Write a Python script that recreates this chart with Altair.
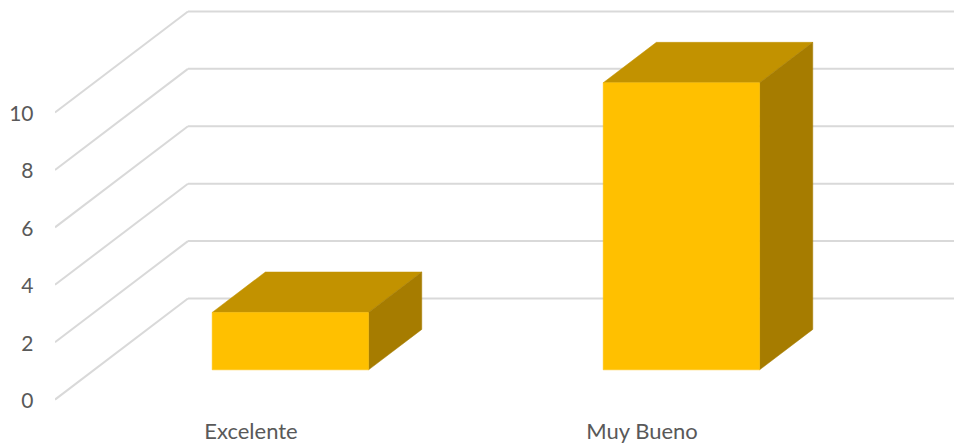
import altair as alt
import pandas as pd

categories = ["Excelente", "Muy Bueno"]
values = [2, 10]
ticks = [0, 2, 4, 6, 8, 10]

# Oblique projection in data units: one category slot on x, one unit of value on y
DX = 0.34     # horizontal shift of the back wall, in slots
DY = 3.52     # vertical shift of the back wall, in value units
BAR = 0.40    # bar width, in slots
D0, D1 = 0.30, 0.70   # bar depth range (fraction of floor depth)
XMAX = 2.2992
YMIN, YMAX = -0.363, 13.64

xs = alt.Scale(domain=[0, XMAX], nice=False, zero=False)
ys = alt.Scale(domain=[YMIN, YMAX], nice=False, zero=False)

grid = pd.DataFrame(
    [{"x": 0, "x2": DX, "y": t, "y2": t + DY} for t in ticks]
    + [{"x": DX, "x2": XMAX, "y": t + DY, "y2": t + DY} for t in ticks]
)

front, top, side = [], [], []
for i, (c, v) in enumerate(zip(categories, values)):
    left = i + 0.5 - BAR / 2 + DX * D0
    right = i + 0.5 + BAR / 2 + DX * D0
    base = DY * D0 - 0.02
    front.append({"c": c, "x": left, "x2": right, "y": base, "y2": base + v})
    run = DX * (D1 - D0)
    rise = DY * (D1 - D0)
    top += [
        {"c": c, "y": base + v, "x": left, "x2": right},
        {"c": c, "y": base + v + rise, "x": left + run, "x2": right + run},
    ]
    side += [
        {"c": c, "x": right, "y": base, "y2": base + v},
        {"c": c, "x": right + run, "y": base + rise, "y2": base + v + rise},
    ]

FONT = "Lato"
TXT = "#595959"

label_expr = "datum.value < 1 ? '%s' : '%s'" % (categories[0], categories[1])

grid_layer = alt.Chart(grid).mark_rule(color="#D9D9D9", strokeWidth=2, clip=True).encode(
    x=alt.X(
        "x:Q", scale=xs, title=None,
        axis=alt.Axis(
            values=[0.5, 1.5], labelExpr=label_expr, domain=False, ticks=False, grid=False,
            labelFont=FONT, labelFontSize=22, labelColor=TXT, labelPadding=11,
            labelBaseline="top", labelAlign="center", labelFontWeight="normal",
        ),
    ),
    x2="x2:Q",
    y=alt.Y(
        "y:Q", scale=ys, title=None,
        axis=alt.Axis(
            values=ticks, domain=False, ticks=False, grid=False, labelFont=FONT,
            labelFontSize=21, labelColor=TXT, labelPadding=22, labelOffset=2,
        ),
    ),
    y2="y2:Q",
)

top_layer = alt.Chart(pd.DataFrame(top)).mark_area(
    orient="horizontal", color="#C29200", stroke="#C29200", strokeWidth=0.5
).encode(
    y=alt.Y("y:Q", scale=ys), x=alt.X("x:Q", scale=xs), x2="x2:Q", detail="c:N"
)
side_layer = alt.Chart(pd.DataFrame(side)).mark_area(
    orient="vertical", color="#A67C00", stroke="#A67C00", strokeWidth=0.5
).encode(
    x=alt.X("x:Q", scale=xs), y=alt.Y("y:Q", scale=ys), y2="y2:Q", detail="c:N"
)
front_layer = alt.Chart(pd.DataFrame(front)).mark_rect(
    color="#FFC000", stroke="#FFC000", strokeWidth=0.5
).encode(
    x=alt.X("x:Q", scale=xs), x2="x2:Q", y=alt.Y("y:Q", scale=ys), y2="y2:Q"
)

chart = (
    alt.layer(grid_layer, top_layer, side_layer, front_layer)
    .properties(
        width=899,
        height=402,
        autosize=alt.AutoSizeParams(type="none"),
        padding={"left": 47, "top": 0, "right": 0, "bottom": 37},
    )
    .configure_view(stroke=None)
)

chart.save("out.html", embed_options={"renderer": "svg", "actions": False})
